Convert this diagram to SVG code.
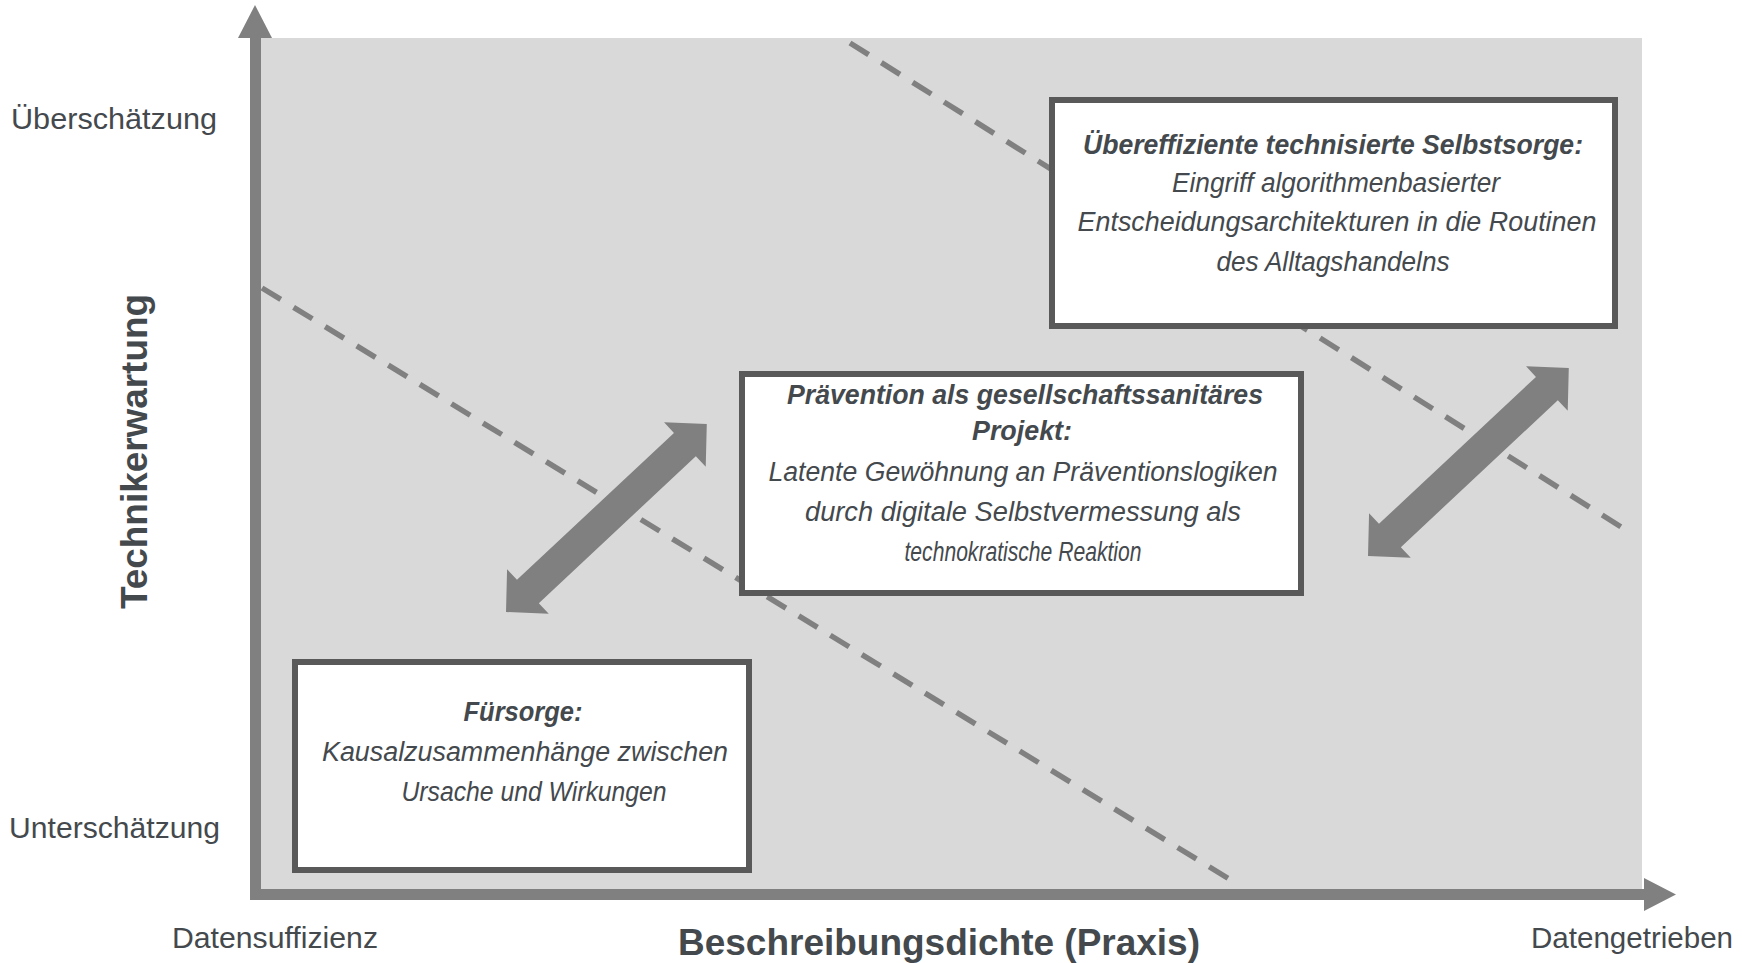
<svg xmlns="http://www.w3.org/2000/svg" width="1742" height="963" viewBox="0 0 1742 963">
<defs>
<style>
.lbl{font-family:"Liberation Sans",Arial,sans-serif;fill:#44494d;font-size:30px}
.ttl{font-family:"Liberation Sans",Arial,sans-serif;fill:#44494d;font-weight:bold;font-size:36px}
.bt{font-family:"Liberation Sans",Arial,sans-serif;fill:#44494d;font-style:italic;font-size:27px;text-anchor:middle}
.bb{font-weight:bold}
.box{fill:#ffffff;stroke:#595959;stroke-width:6}
.dash{stroke:#808080;stroke-width:5.5;stroke-dasharray:22 15;fill:none}
.axis{fill:#808080}
.darr{fill:#808080}
</style>
<polygon id="dbl" points="0,0 30,-30.5 30,-16 245,-16 245,-30.5 275,0 245,30.5 245,16 30,16 30,30.5"/>
</defs>
<rect id="plot-bg" x="261" y="38" width="1381" height="851" fill="#d9d9d9"/>
<g id="connectors">
<line class="dash" x1="262" y1="288" x2="1239" y2="885"/>
<line class="dash" x1="850" y1="43" x2="1626" y2="530"/>
<use href="#dbl" class="darr" transform="translate(506,612) rotate(-43.1)"/>
<use href="#dbl" class="darr" transform="translate(1368,556) rotate(-43.1)"/>
</g>
<g id="axes">
<rect class="axis" x="250" y="37" width="11" height="863"/>
<polygon class="axis" points="255,5 272,38 238,38"/>
<rect class="axis" x="250" y="889" width="1395" height="11"/>
<polygon class="axis" points="1644,878 1676,894.5 1644,911"/>
</g>
<g id="axis-labels">
<text class="lbl" x="11" y="129" textLength="206" lengthAdjust="spacingAndGlyphs">Überschätzung</text>
<text class="lbl" x="9" y="838" textLength="211" lengthAdjust="spacingAndGlyphs">Unterschätzung</text>
<text class="lbl" x="172" y="948" textLength="206" lengthAdjust="spacingAndGlyphs">Datensuffizienz</text>
<text class="lbl" x="1531" y="948" textLength="202" lengthAdjust="spacingAndGlyphs">Datengetrieben</text>
<text class="ttl" x="678" y="955" textLength="522" lengthAdjust="spacingAndGlyphs">Beschreibungsdichte (Praxis)</text>
<text class="ttl" transform="translate(147,609) rotate(-90)" x="0" y="0" textLength="315" lengthAdjust="spacingAndGlyphs">Technikerwartung</text>
</g>
<g id="node-top">
<rect class="box" x="1052" y="100" width="563" height="226"/>
<text class="bt bb" x="1333" y="154" textLength="500" lengthAdjust="spacingAndGlyphs">Übereffiziente technisierte Selbstsorge:</text>
<text class="bt" x="1336" y="192" textLength="328" lengthAdjust="spacingAndGlyphs">Eingriff algorithmenbasierter</text>
<text class="bt" x="1337" y="231" textLength="519" lengthAdjust="spacingAndGlyphs">Entscheidungsarchitekturen in die Routinen</text>
<text class="bt" x="1333" y="271" textLength="233" lengthAdjust="spacingAndGlyphs">des Alltagshandelns</text>
</g>
<g id="node-middle">
<rect class="box" x="742" y="374" width="559" height="219"/>
<text class="bt bb" x="1025" y="404" textLength="476" lengthAdjust="spacingAndGlyphs">Prävention als gesellschaftssanitäres</text>
<text class="bt bb" x="1022" y="440" textLength="100" lengthAdjust="spacingAndGlyphs">Projekt:</text>
<text class="bt" x="1023" y="481" textLength="509" lengthAdjust="spacingAndGlyphs">Latente Gewöhnung an Präventionslogiken</text>
<text class="bt" x="1023" y="521" textLength="436" lengthAdjust="spacingAndGlyphs">durch digitale Selbstvermessung als</text>
<text class="bt" x="1023" y="561" textLength="237" lengthAdjust="spacingAndGlyphs">technokratische Reaktion</text>
</g>
<g id="node-bottom">
<rect class="box" x="295" y="662" width="454" height="208"/>
<text class="bt bb" x="523" y="721" textLength="119" lengthAdjust="spacingAndGlyphs">Fürsorge:</text>
<text class="bt" x="525" y="761" textLength="406" lengthAdjust="spacingAndGlyphs">Kausalzusammenhänge zwischen</text>
<text class="bt" x="534" y="801" textLength="265" lengthAdjust="spacingAndGlyphs">Ursache und Wirkungen</text>
</g>
</svg>
